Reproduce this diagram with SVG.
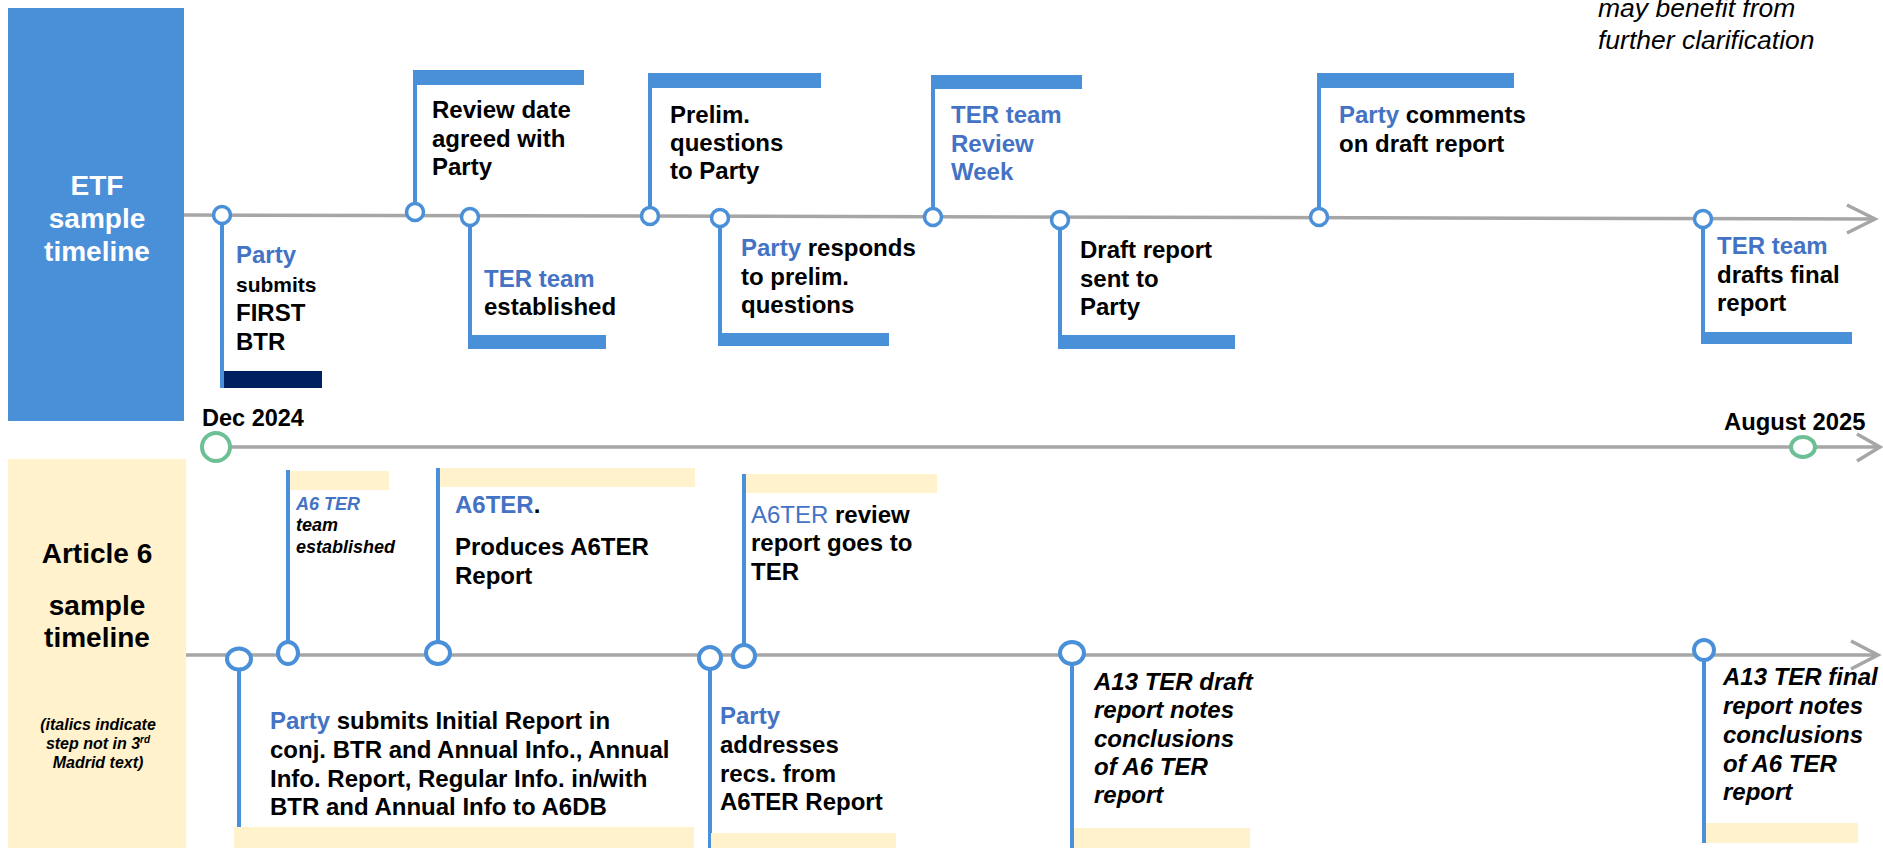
<svg xmlns="http://www.w3.org/2000/svg" width="1883" height="848" viewBox="0 0 1883 848">
<style>
.tl{stroke:#a6a6a6;stroke-width:3.5;fill:none}
.ev{stroke:#4a90d9;stroke-width:4;fill:none}
.dot{fill:#fff;stroke:#4a90d9;stroke-width:3.5}
.dot2{fill:#fff;stroke:#4a90d9;stroke-width:4}
.gdot{fill:#fff;stroke:#6dbf95;stroke-width:4}
.bar{fill:#4a90d9}
.nbar{fill:#002060}
.ybar{fill:#fff2cc}
text{font-family:"Liberation Sans",Arial,sans-serif;font-weight:bold;font-size:24px;fill:#000}
.b{fill:#4472c4}
.w{fill:#fff;font-size:28px}
.h{font-size:28px}
.it{font-style:italic}
.sm{font-size:18px}
.nt{font-size:16px;font-style:italic}
.reg{font-weight:normal}
.note{font-size:26.5px;font-style:italic;font-weight:normal}
.sup{font-size:10px}
</style>
<rect width="1883" height="848" fill="#fff"/>

<g id="etf-label">
<rect x="8" y="8" width="176" height="413" fill="#4a90d9"/>
<text class="w" x="97" y="195" text-anchor="middle">ETF</text>
<text class="w" x="97" y="228" text-anchor="middle">sample</text>
<text class="w" x="97" y="261" text-anchor="middle">timeline</text>
</g>

<g id="a6-label">
<rect x="8" y="459" width="178" height="389" fill="#fff2cc"/>
<text class="h" x="97" y="563" text-anchor="middle">Article 6</text>
<text class="h" x="97" y="615" text-anchor="middle">sample</text>
<text class="h" x="97" y="647" text-anchor="middle">timeline</text>
<text class="nt" x="98" y="730" text-anchor="middle">(italics indicate</text>
<text class="nt" x="98" y="749" text-anchor="middle">step not in 3<tspan class="sup" dy="-6">rd</tspan></text>
<text class="nt" x="98" y="768" text-anchor="middle">Madrid text)</text>
</g>

<g id="note">
<text class="note" x="1598" y="17">may benefit from</text>
<text class="note" x="1598" y="49">further clarification</text>
</g>

<g id="connectors">
<path class="tl" d="M184 215 L1875 219"/>
<path class="tl" d="M1847 205 L1875 219 L1847 233"/>
<path class="tl" d="M231 447 L1880 447"/>
<path class="tl" d="M1857 434 L1880 447 L1857 461"/>
<path class="tl" d="M186 655 L1878 655"/>
<path class="tl" d="M1851 641 L1878 655 L1851 669"/>
<path class="ev" d="M222 224 V388 M415 204 V70 M470 225 V349 M650 208 V73 M720 226 V346 M933 209 V75 M1060 228 V349 M1319 209 V73 M1703 227 V344"/>
<path class="ev" d="M239 670 V848 M288 642 V470 M438 642 V468 M710 669 V848 M744 645 V474 M1072 664 V848 M1704 660 V843"/>
</g>

<g id="dates">
<text x="202" y="426" style="font-size:23.5px">Dec 2024</text>
<circle class="gdot" cx="216" cy="447" r="14"/>
<text x="1724" y="430" style="font-size:23.8px">August 2025</text>
<ellipse class="gdot" cx="1803" cy="447" rx="12" ry="10"/>
</g>

<g id="e1">
<rect class="nbar" x="224" y="371" width="98" height="17"/>
<circle class="dot" cx="222" cy="215" r="8.5"/>
<text x="236" y="263" class="b">Party</text>
<text x="236" y="292" style="font-size:21px">submits</text>
<text x="236" y="321">FIRST</text>
<text x="236" y="350">BTR</text>
</g>
<g id="e2">
<rect class="bar" x="413" y="70" width="171" height="15"/>
<circle class="dot" cx="415" cy="212" r="8.5"/>
<text x="432" y="118">Review date</text>
<text x="432" y="147">agreed with</text>
<text x="432" y="175">Party</text>
</g>
<g id="e3">
<rect class="bar" x="468" y="335" width="138" height="14"/>
<circle class="dot" cx="470" cy="217" r="8.5"/>
<text x="484" y="287" class="b">TER team</text>
<text x="484" y="315">established</text>
</g>
<g id="e4">
<rect class="bar" x="648" y="73" width="173" height="15"/>
<circle class="dot" cx="650" cy="216" r="8.5"/>
<text x="670" y="123">Prelim.</text>
<text x="670" y="151">questions</text>
<text x="670" y="179">to Party</text>
</g>
<g id="e5">
<rect class="bar" x="718" y="333" width="171" height="13"/>
<circle class="dot" cx="720" cy="218" r="8.5"/>
<text x="741" y="256"><tspan class="b">Party</tspan> responds</text>
<text x="741" y="285">to prelim.</text>
<text x="741" y="313">questions</text>
</g>
<g id="e6">
<rect class="bar" x="931" y="75" width="151" height="14"/>
<circle class="dot" cx="933" cy="217" r="8.5"/>
<text x="951" y="123" class="b">TER team</text>
<text x="951" y="152" class="b">Review</text>
<text x="951" y="180" class="b">Week</text>
</g>
<g id="e7">
<rect class="bar" x="1058" y="335" width="177" height="14"/>
<circle class="dot" cx="1060" cy="220" r="8.5"/>
<text x="1080" y="258">Draft report</text>
<text x="1080" y="287">sent to</text>
<text x="1080" y="315">Party</text>
</g>
<g id="e8">
<rect class="bar" x="1317" y="73" width="197" height="15"/>
<circle class="dot" cx="1319" cy="217" r="8.5"/>
<text x="1339" y="123"><tspan class="b">Party</tspan> comments</text>
<text x="1339" y="152">on draft report</text>
</g>
<g id="e9">
<rect class="bar" x="1701" y="332" width="151" height="12"/>
<circle class="dot" cx="1703" cy="219" r="8.5"/>
<text x="1717" y="254" class="b">TER team</text>
<text x="1717" y="283">drafts final</text>
<text x="1717" y="311">report</text>
</g>

<g id="a1">
<rect class="ybar" x="234" y="827" width="460" height="21"/>
<ellipse class="dot2" cx="239" cy="659" rx="12" ry="10.5"/>
<text x="270" y="729"><tspan class="b">Party</tspan> submits Initial Report in</text>
<text x="270" y="758">conj. BTR and Annual Info., Annual</text>
<text x="270" y="787">Info. Report, Regular Info. in/with</text>
<text x="270" y="815">BTR and Annual Info to A6DB</text>
</g>
<g id="a2">
<rect class="ybar" x="290" y="471" width="99" height="19"/>
<ellipse class="dot2" cx="288" cy="653" rx="10" ry="11"/>
<text x="296" y="510" class="it sm b">A6 TER</text>
<text x="296" y="531" class="it sm">team</text>
<text x="296" y="553" class="it sm">established</text>
</g>
<g id="a3">
<rect class="ybar" x="440" y="468" width="255" height="19"/>
<ellipse class="dot2" cx="438" cy="653" rx="12" ry="11"/>
<text x="455" y="513"><tspan class="b">A6TER</tspan>.</text>
<text x="455" y="555">Produces A6TER</text>
<text x="455" y="584">Report</text>
</g>
<g id="a4">
<rect class="ybar" x="711" y="833" width="185" height="15"/>
<ellipse class="dot2" cx="710" cy="658" rx="11" ry="11"/>
<text x="720" y="724" class="b">Party</text>
<text x="720" y="753">addresses</text>
<text x="720" y="782">recs. from</text>
<text x="720" y="810">A6TER Report</text>
</g>
<g id="a5">
<rect class="ybar" x="746" y="474" width="191" height="19"/>
<ellipse class="dot2" cx="744" cy="656" rx="11" ry="11"/>
<text x="751" y="523"><tspan class="b reg">A6TER</tspan> review</text>
<text x="751" y="551">report goes to</text>
<text x="751" y="580">TER</text>
</g>
<g id="a6">
<rect class="ybar" x="1074" y="828" width="176" height="20"/>
<ellipse class="dot2" cx="1072" cy="653" rx="12" ry="11"/>
<text x="1094" y="690" class="it">A13 TER draft</text>
<text x="1094" y="718" class="it">report notes</text>
<text x="1094" y="747" class="it">conclusions</text>
<text x="1094" y="775" class="it">of A6 TER</text>
<text x="1094" y="803" class="it">report</text>
</g>
<g id="a7">
<rect class="ybar" x="1706" y="823" width="152" height="20"/>
<ellipse class="dot2" cx="1704" cy="650" rx="10" ry="10"/>
<text x="1723" y="685" class="it">A13 TER final</text>
<text x="1723" y="714" class="it">report notes</text>
<text x="1723" y="743" class="it">conclusions</text>
<text x="1723" y="772" class="it">of A6 TER</text>
<text x="1723" y="800" class="it">report</text>
</g>
</svg>
